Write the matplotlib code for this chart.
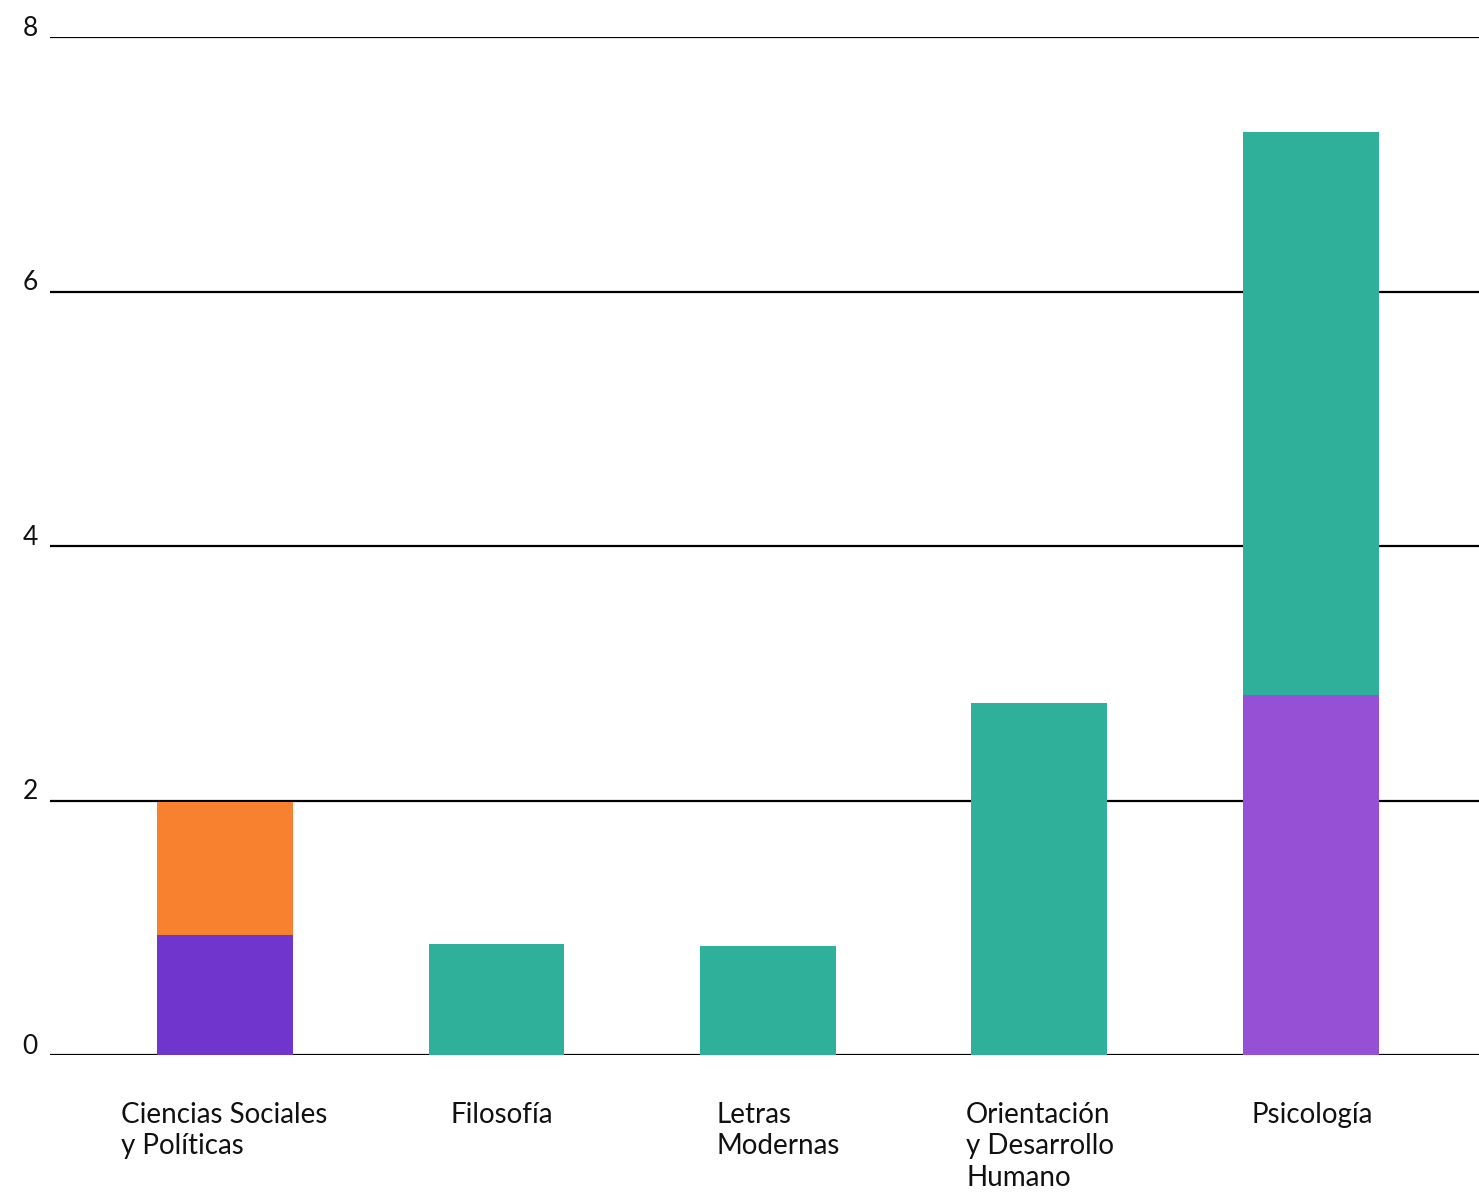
import matplotlib
matplotlib.use("Agg")
import matplotlib.pyplot as plt

categories = ["Ciencias Sociales\ny Políticas", "Filosofía", "Letras\nModernas",
              "Orientación\ny Desarrollo\nHumano", "Psicología"]
purple_vals = [0.94, 0.0, 0.0, 0.0, 2.83]
orange_vals = [1.05, 0.0, 0.0, 0.0, 0.0]
teal_vals = [0.0, 0.87, 0.86, 2.77, 4.42]
yticks = [0, 2, 4, 6, 8]

purple_cols = ["#6f35cc", "#6f35cc", "#6f35cc", "#6f35cc", "#9550d6"]
orange_col = "#f7812e"
teal_col = "#2fb09a"

plt.rcParams['font.family'] = ['Lato', 'DejaVu Sans']

fig = plt.figure(figsize=(14.79, 11.93), dpi=100)
ax = fig.add_axes([50/1479, 1 - 1055/1193, 1 - 50/1479, (1055 - 37)/1193])

x = list(range(len(categories)))
w = 0.5
for yv in yticks:
    ax.axhline(yv, color="black", lw=1.6, zorder=1)

ax.bar(x, purple_vals, width=w, color=purple_cols, zorder=2)
ax.bar(x, orange_vals, width=w, bottom=purple_vals, color=orange_col, zorder=2)
bottoms = [p + o for p, o in zip(purple_vals, orange_vals)]
ax.bar(x, teal_vals, width=w, bottom=bottoms, color=teal_col, zorder=2)

ax.set_xlim(-0.645, 4.62)
ax.set_ylim(0, 8)
ax.axis("off")

for yv in yticks:
    ax.text(-0.718, yv + 0.07, str(yv), ha="center", va="center", fontsize=19, color="#111111")

label_x = [-0.385, -0.17, -0.19, -0.27, -0.22]
for xi, lab, dx in zip(x, categories, label_x):
    ax.text(xi + dx, -0.37, lab, ha="left", va="top", fontsize=20,
            linespacing=1.25, color="#111111")

fig.savefig("out.png", dpi=100)
